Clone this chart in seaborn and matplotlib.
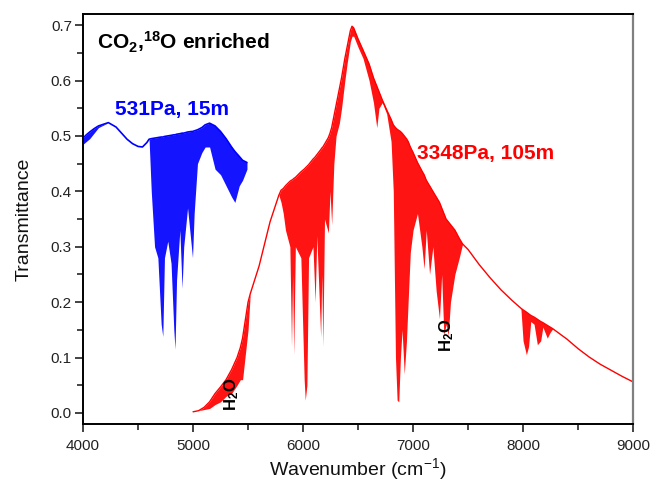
import numpy as np
import pandas as pd
import matplotlib
matplotlib.use("Agg")
import matplotlib.pyplot as plt
import seaborn as sns

# blue spectrum: 531 Pa, 15 m  (wavenumber, upper envelope, lowest line bottom)
blue_wn = [4000, 4030, 4060, 4100, 4140, 4230, 4300, 4350, 4400, 4450, 4500, 4540,
           4580, 4600, 4620, 4650, 4680, 4710, 4725, 4740, 4770, 4800, 4825, 4836,
           4850, 4880, 4900, 4915, 4950, 4985, 4995, 5010, 5040, 5080, 5110, 5150,
           5200, 5250, 5300, 5350, 5380, 5420, 5450, 5490]
blue_top = [0.496, 0.502, 0.507, 0.513, 0.518, 0.524, 0.516, 0.505, 0.494, 0.486, 0.481, 0.480,
            0.488, 0.494, 0.495, 0.496, 0.497, 0.498, 0.498, 0.499, 0.500, 0.501, 0.502, 0.502,
            0.503, 0.504, 0.505, 0.505, 0.507, 0.508, 0.508, 0.509, 0.511, 0.515, 0.520, 0.523,
            0.518, 0.508, 0.495, 0.480, 0.472, 0.463, 0.456, 0.452]
blue_low = [0.485, 0.490, 0.495, 0.505, 0.515, 0.524, 0.516, 0.505, 0.494, 0.486, 0.481, 0.480,
            0.488, 0.494, 0.400, 0.300, 0.280, 0.160, 0.138, 0.280, 0.310, 0.270, 0.150, 0.115,
            0.240, 0.330, 0.225, 0.300, 0.370, 0.300, 0.280, 0.360, 0.450, 0.470, 0.480, 0.480,
            0.440, 0.430, 0.410, 0.390, 0.380, 0.410, 0.420, 0.440]

# red spectrum: 3348 Pa, 105 m
red_wn = [5000, 5050, 5100, 5150, 5200, 5250, 5300, 5350, 5400, 5430, 5450, 5500, 5520,
          5600, 5700, 5780, 5800, 5820, 5840, 5880, 5895, 5905, 5915, 5930, 5980, 6010,
          6020, 6035, 6050, 6090, 6110, 6125, 6160, 6170, 6180, 6195, 6230, 6245, 6260,
          6280, 6300, 6330, 6350, 6380, 6400, 6430, 6445, 6460, 6500, 6545, 6600, 6640,
          6670, 6690, 6720, 6760, 6800, 6820, 6840, 6855, 6870, 6885, 6900, 6920, 6940,
          6955, 6975, 7000, 7040, 7080, 7100, 7120, 7150, 7180, 7210, 7240, 7260, 7280,
          7300, 7320, 7340, 7380, 7420, 7450, 7500, 7600, 7700, 7800, 7900, 7980, 8000,
          8030, 8050, 8070, 8100, 8130, 8160, 8180, 8220, 8245, 8270, 8400, 8500, 8600,
          8700, 8800, 8900, 9000]
red_top = [0.002, 0.004, 0.010, 0.020, 0.035, 0.047, 0.060, 0.078, 0.100, 0.118, 0.135, 0.200, 0.215,
           0.265, 0.345, 0.393, 0.402, 0.405, 0.410, 0.418, 0.420, 0.421, 0.423, 0.425, 0.435, 0.440,
           0.442, 0.445, 0.448, 0.458, 0.462, 0.466, 0.475, 0.478, 0.480, 0.485, 0.497, 0.505, 0.515,
           0.535, 0.555, 0.585, 0.605, 0.640, 0.660, 0.690, 0.698, 0.695, 0.675, 0.655, 0.630, 0.605,
           0.590, 0.580, 0.565, 0.547, 0.530, 0.520, 0.515, 0.512, 0.510, 0.508, 0.505, 0.500, 0.495,
           0.490, 0.480, 0.470, 0.452, 0.437, 0.430, 0.420, 0.410, 0.400, 0.390, 0.380, 0.370, 0.360,
           0.350, 0.345, 0.340, 0.330, 0.315, 0.305, 0.295, 0.268, 0.244, 0.222, 0.203, 0.189, 0.186,
           0.182, 0.179, 0.176, 0.173, 0.169, 0.165, 0.163, 0.158, 0.155, 0.152, 0.133, 0.116, 0.101,
           0.088, 0.077, 0.066, 0.056]
red_low = [0.002, 0.004, 0.006, 0.008, 0.015, 0.020, 0.030, 0.035, 0.050, 0.060, 0.060, 0.150, 0.215,
           0.265, 0.345, 0.393, 0.380, 0.360, 0.330, 0.300, 0.120, 0.250, 0.105, 0.300, 0.280, 0.060,
           0.023, 0.050, 0.280, 0.300, 0.200, 0.320, 0.137, 0.250, 0.120, 0.350, 0.325, 0.400, 0.340,
           0.450, 0.500, 0.523, 0.550, 0.600, 0.630, 0.670, 0.680, 0.680, 0.660, 0.640, 0.600, 0.560,
           0.515, 0.550, 0.560, 0.540, 0.490, 0.400, 0.100, 0.023, 0.020, 0.100, 0.150, 0.070, 0.130,
           0.200, 0.290, 0.330, 0.360, 0.300, 0.260, 0.330, 0.250, 0.300, 0.220, 0.170, 0.250, 0.140,
           0.160, 0.140, 0.200, 0.250, 0.280, 0.305, 0.295, 0.268, 0.244, 0.222, 0.203, 0.189, 0.130,
           0.105, 0.120, 0.165, 0.160, 0.123, 0.130, 0.155, 0.135, 0.145, 0.152, 0.133, 0.116, 0.101,
           0.088, 0.077, 0.066, 0.056]

BLUE = "#0000ff"
RED = "#ff0000"

sns.set_style("ticks")
plt.rcParams["font.family"] = ["Liberation Sans", "DejaVu Sans"]
plt.rcParams["mathtext.fontset"] = "custom"
plt.rcParams["mathtext.default"] = "regular"
plt.rcParams["mathtext.rm"] = "Liberation Sans"
plt.rcParams["mathtext.bf"] = "Liberation Sans:bold"
plt.rcParams["text.color"] = "black"
plt.rcParams["axes.labelcolor"] = "#111111"

blue_df = pd.DataFrame({"wn": blue_wn, "top": blue_top, "low": blue_low})
red_df = pd.DataFrame({"wn": red_wn, "top": red_top, "low": red_low})

fig = plt.figure(figsize=(6.54, 4.84), dpi=100)
ax = fig.add_axes([0.127, 0.124, 0.841, 0.847])

# absorption lines region, then the envelope on top
ax.fill_between(blue_df["wn"], blue_df["low"], blue_df["top"], color=BLUE, lw=0, alpha=0.92)
ax.fill_between(red_df["wn"], red_df["low"], red_df["top"], color=RED, lw=0, alpha=0.92)
sns.lineplot(data=blue_df, x="wn", y="top", color=BLUE, lw=1.2, ax=ax, estimator=None, sort=False)
sns.lineplot(data=red_df, x="wn", y="top", color=RED, lw=1.0, ax=ax, estimator=None, sort=False)

ax.set_xlim(4000, 9000)
ax.set_ylim(-0.02, 0.72)
ax.set_xticks([4000, 5000, 6000, 7000, 8000, 9000])
ax.set_xticks(np.arange(4500, 9000, 1000), minor=True)
ax.set_yticks(np.arange(0, 0.71, 0.1))
ax.set_yticks(np.arange(0.05, 0.7, 0.1), minor=True)
ax.yaxis.set_major_formatter(matplotlib.ticker.FormatStrFormatter("%.1f"))
ax.tick_params(which="major", direction="out", length=6, width=1.2, labelsize=11, colors="#222222")
ax.tick_params(which="minor", direction="out", length=4, width=1.2)
ax.tick_params(axis="x", which="major", pad=5)
ax.tick_params(axis="y", which="major", pad=2)

for side in ["left", "bottom", "top"]:
    ax.spines[side].set_color("black")
    ax.spines[side].set_linewidth(1.4)
ax.spines["right"].set_color("#808080")
ax.spines["right"].set_linewidth(1.6)

ax.set_xlabel("Wavenumber (cm$^{-1}$)", fontsize=14, labelpad=2)
ax.set_ylabel("Transmittance", fontsize=14, labelpad=13)

ax.text(4125, 0.668, r"CO$_\mathbf{2}$,$^\mathbf{18}$O enriched", fontsize=15, fontweight="bold",
        va="center", ha="left")
ax.text(4290, 0.548, "531Pa, 15m", fontsize=15, fontweight="bold", color=BLUE, va="center", ha="left")
ax.text(7040, 0.468, "3348Pa, 105m", fontsize=15, fontweight="bold", color=RED, va="center", ha="left")
ax.text(5350, 0.033, r"H$_\mathbf{2}$O", fontsize=12, fontweight="bold", rotation=90, va="center", ha="center")
ax.text(7305, 0.140, r"H$_\mathbf{2}$O", fontsize=12, fontweight="bold", rotation=90, va="center", ha="center")

fig.savefig("out.png", dpi=100)
